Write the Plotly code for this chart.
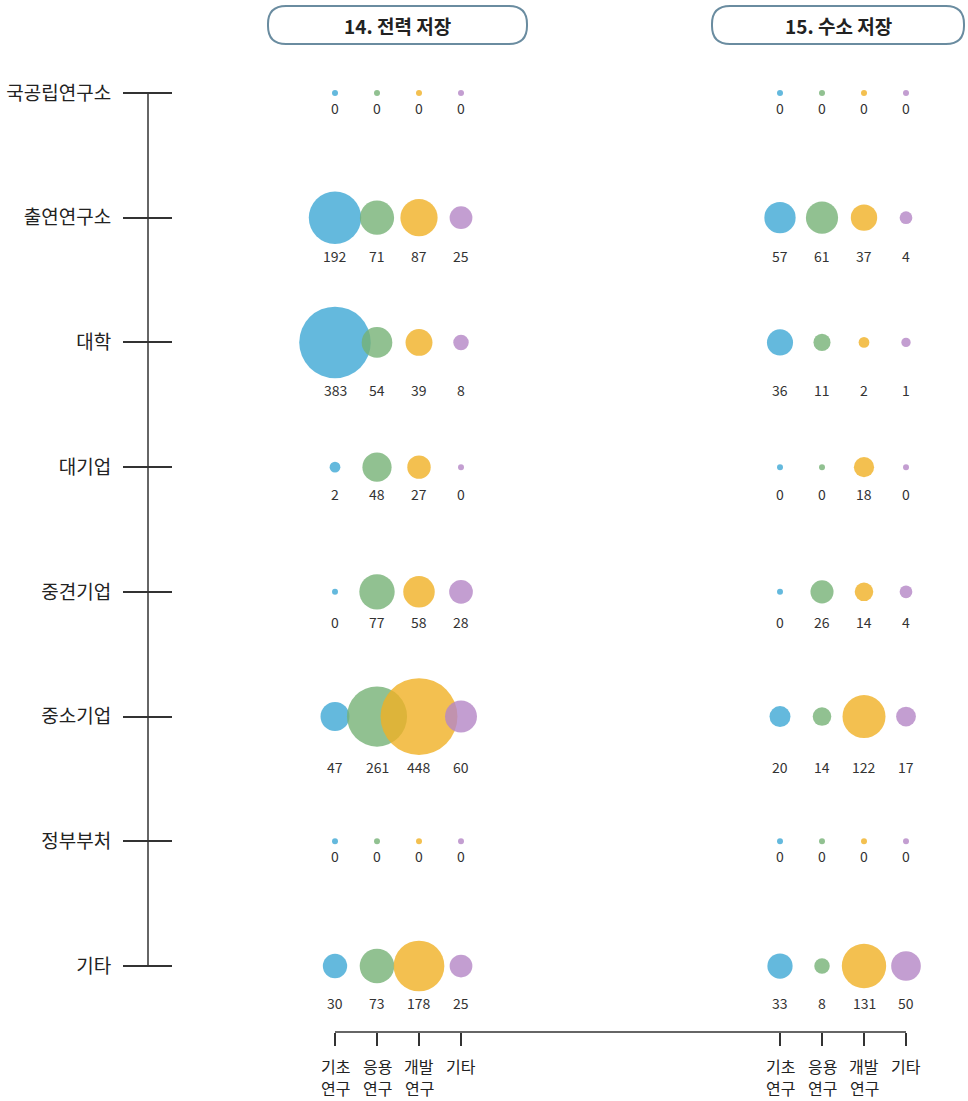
import plotly.graph_objects as go

W, H = 968, 1101
FONT = "Noto Sans CJK KR"

rows = ['국공립연구소', '출연연구소', '대학', '대기업', '중견기업', '중소기업', '정부부처', '기타']
stages = ['기초연구', '응용연구', '개발연구', '기타']
stage_line1 = ['기초', '응용', '개발', '기타']
stage_line2 = ['연구', '연구', '연구', '']
colors = ['rgb(61,168,212)', 'rgb(118,178,118)', 'rgb(240,176,36)', 'rgb(180,134,198)']

titles = ['14. 전력 저장', '15. 수소 저장']

# 14. 전력 저장
power_basic = [0, 192, 383, 2, 0, 47, 0, 30]
power_applied = [0, 71, 54, 48, 77, 261, 0, 73]
power_dev = [0, 87, 39, 27, 58, 448, 0, 178]
power_etc = [0, 25, 8, 0, 28, 60, 0, 25]

# 15. 수소 저장
h2_basic = [0, 57, 36, 0, 0, 20, 0, 33]
h2_applied = [0, 61, 11, 0, 26, 14, 0, 8]
h2_dev = [0, 37, 2, 18, 14, 122, 0, 131]
h2_etc = [0, 4, 1, 0, 4, 17, 0, 50]

groups = [
    [power_basic, power_applied, power_dev, power_etc],
    [h2_basic, h2_applied, h2_dev, h2_etc],
]


def bubble(v):
    return 6 + 3.35 * v ** 0.5


fig = go.Figure()

xdoms = [[314 / W, 482 / W], [759 / W, 927 / W]]
ydom = [1 - 1032 / H, 1 - 30.6 / H]
yrange = [len(rows) - 1 + 0.529, -0.5]

# per-row label offset from biggest bubble in that row (both groups)
row_max = [max(max(s[i] for s in g) for g in groups) for i in range(len(rows))]

annotations = []
for gi, g in enumerate(groups):
    xa = 'x' if gi == 0 else 'x2'
    for si, series in enumerate(g):
        fig.add_trace(go.Scatter(
            x=[stages[si]] * len(rows), y=rows, xaxis=xa, yaxis='y',
            mode='markers', cliponaxis=False,
            marker=dict(size=[bubble(v) for v in series], sizemode='diameter',
                        color=colors[si], opacity=0.8, line=dict(width=0)),
            showlegend=False, hoverinfo='skip'))
        for ri, v in enumerate(series):
            annotations.append(dict(
                x=stages[si], y=rows[ri], xref=xa, yref='y', text=str(v),
                showarrow=False, yshift=-(12 + bubble(row_max[ri]) / 2),
                xanchor='center', yanchor='middle',
                font=dict(family=FONT, size=14, color='#333')))
    # two-line stage labels under the ticks
    for si in range(len(stages)):
        for txt, shift in ((stage_line1[si], -34), (stage_line2[si], -55.5)):
            if txt:
                annotations.append(dict(
                    x=stages[si], y=ydom[0], xref=xa, yref='paper', text=txt,
                    showarrow=False, yshift=shift, xanchor='center', yanchor='middle',
                    borderpad=0, font=dict(family=FONT, size=16, color='#222')))

xcommon = dict(type='category', categoryarray=stages, range=[-0.5, 3.5],
               tickmode='array', tickvals=stages, ticktext=['', '', '', ''],
               ticks='outside', ticklen=13, tickwidth=1.5, tickcolor='#333',
               showgrid=False, zeroline=False, showline=False, anchor='y')

fig.update_layout(
    width=W, height=H, margin=dict(l=0, r=0, t=0, b=0),
    plot_bgcolor='white', paper_bgcolor='white',
    xaxis=dict(domain=xdoms[0], **xcommon),
    xaxis2=dict(domain=xdoms[1], **xcommon),
    yaxis=dict(domain=ydom, type='category', categoryarray=rows,
               range=yrange, anchor='free', position=172 / W,
               ticks='outside', ticklen=49, tickwidth=1.5, tickcolor='#333',
               ticklabelstandoff=8,
               showgrid=False, zeroline=False, showline=False,
               tickfont=dict(family=FONT, size=19, color='#222')),
)


def px(x, y):
    return x / W, 1 - y / H


def pill(x0, x1, y0, y1, r):
    a = px(x0 + r, y0); b = px(x1 - r, y0); c = px(x1, y0); d = px(x1, y0 + r)
    e = px(x1, y1 - r); f = px(x1, y1); g = px(x1 - r, y1); h = px(x0 + r, y1)
    i = px(x0, y1); j = px(x0, y1 - r); k = px(x0, y0 + r); l = px(x0, y0)
    return (f"M{a[0]},{a[1]} L{b[0]},{b[1]} Q{c[0]},{c[1]} {d[0]},{d[1]} "
            f"L{e[0]},{e[1]} Q{f[0]},{f[1]} {g[0]},{g[1]} L{h[0]},{h[1]} "
            f"Q{i[0]},{i[1]} {j[0]},{j[1]} L{k[0]},{k[1]} Q{l[0]},{l[1]} {a[0]},{a[1]} Z")


shapes = []
boxes = [(268, 527), (712, 964)]
for (bx0, bx1), t in zip(boxes, titles):
    shapes.append(dict(type='path', xref='paper', yref='paper', path=pill(bx0, bx1, 6, 44, 18),
                       line=dict(color='#6a8ca0', width=2), fillcolor='white'))
    cx, cy = px((bx0 + bx1) / 2, 25)
    annotations.append(dict(x=cx, y=cy, xref='paper', yref='paper', text=f'<b>{t}</b>',
                            showarrow=False, xanchor='center', yanchor='middle',
                            font=dict(family=FONT, size=19, color='#222')))

# left vertical spine
shapes.append(dict(type='line', xref='paper', yref='y', x0=148 / W, x1=148 / W,
                   y0=0, y1=len(rows) - 1, line=dict(color='#333', width=1.5)))

# bottom bracket line across both groups
step0 = (xdoms[0][1] - xdoms[0][0]) / 4
step1 = (xdoms[1][1] - xdoms[1][0]) / 4
shapes.append(dict(type='line', xref='paper', yref='paper',
                   x0=xdoms[0][0] + step0 / 2, x1=xdoms[1][1] - step1 / 2,
                   y0=ydom[0], y1=ydom[0], line=dict(color='#333', width=1.5)))

fig.update_layout(shapes=shapes, annotations=annotations)

fig.write_html("out.html", config={'displayModeBar': False},
               post_script="document.body.style.margin='0';")
